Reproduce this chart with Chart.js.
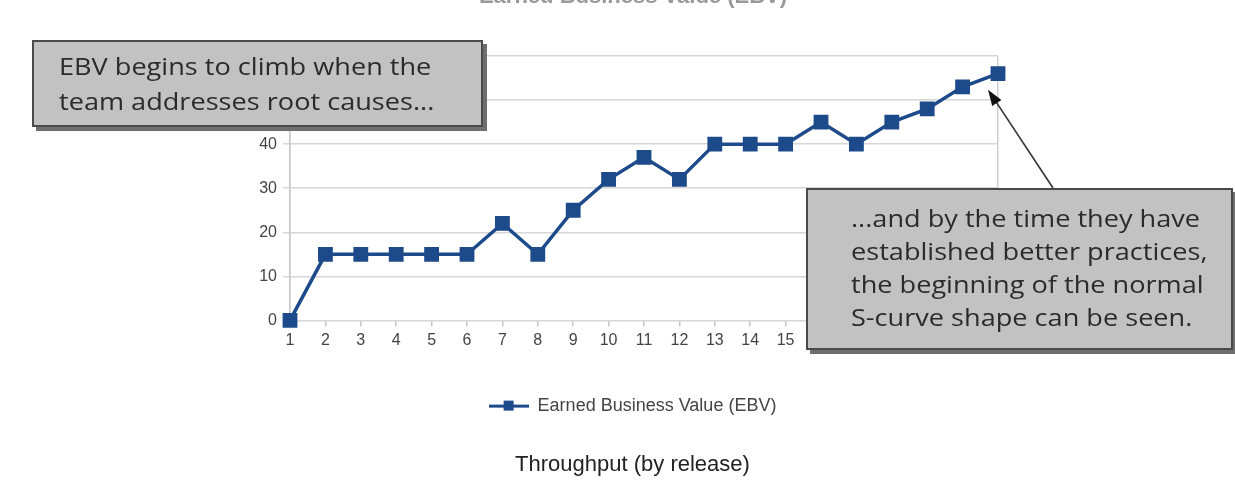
<!DOCTYPE html>
<html>
<head>
<meta charset="utf-8">
<script src="https://cdn.jsdelivr.net/npm/chart.js@4"></script>
<style>
  html, body { margin: 0; padding: 0; background: #fff; }
  #wrap { position: relative; width: 1235px; height: 480px; overflow: hidden; }
  #grafica1 { position: absolute; left: 0; top: 0; }
  .callout {
    position: absolute;
    background: #c2c2c2;
    border: 2px solid #4a4a4a;
    box-shadow: 4px 4px 0 #6e6e6e;
    color: #2b2b2b;
    font-family: "Open Sans", "Noto Sans", sans-serif;
    font-size: 24px;
    box-sizing: border-box;
  }
  .callout span { display: inline-block; transform: scaleX(1.13); transform-origin: left center; white-space: nowrap; }
  #nota1 { left: 32px; top: 40px; width: 451px; height: 87px; padding: 6px 0 0 25px; line-height: 35px; }
  #nota2 { left: 806px; top: 188px; width: 427px; height: 162px; padding: 11px 0 0 43px; line-height: 33px; }
</style>
</head>
<body>
<div id="wrap">
  <canvas id="grafica1" width="1235" height="480"></canvas>
  <div class="callout" id="nota1"><span>EBV begins to climb when the</span><br><span>team addresses root causes...</span></div>
  <div class="callout" id="nota2"><span>...and by the time they have</span><br><span>established better practices,</span><br><span>the beginning of the normal</span><br><span>S-curve shape can be seen.</span></div>
</div>
<script>
// datos
const releases = ['1','2','3','4','5','6','7','8','9','10','11','12','13','14','15','16','17','18','19','20','21'];
const ebv = [0, 15, 15, 15, 15, 15, 22, 15, 25, 32, 37, 32, 40, 40, 40, 45, 40, 45, 48, 53, 56];
const yTicks = [0, 10, 20, 30, 40, 50, 60];

const azul = '#1c4a8a';

// icono de leyenda: linea con cuadro en medio
const icono = document.createElement('canvas');
icono.width = 40; icono.height = 12;
const ic = icono.getContext('2d');
ic.fillStyle = azul;
ic.fillRect(0, 5, 40, 3);
ic.fillRect(15, 1, 10, 10);

// titulo superior (cortado en la imagen) y flecha de la nota
const extras = {
    id: 'extras',
    afterDraw(chart) {
        const c = chart.ctx;
        c.save();
        c.fillStyle = '#999';
        c.font = 'bold 22px "Liberation Sans", Arial, sans-serif';
        c.textAlign = 'center';
        c.textBaseline = 'alphabetic';
        c.fillText('Earned Business Value (EBV)', 633, 3);

        // flecha hacia el ultimo punto
        const meta = chart.getDatasetMeta(0);
        const p = meta.data[meta.data.length - 1];
        const tipX = p.x - 10, tipY = p.y + 16;
        const tailX = 1053, tailY = 188;
        const ang = Math.atan2(tipY - tailY, tipX - tailX);
        c.strokeStyle = '#333';
        c.lineWidth = 1.6;
        c.beginPath();
        c.moveTo(tailX, tailY);
        c.lineTo(tipX - 12 * Math.cos(ang), tipY - 12 * Math.sin(ang));
        c.stroke();
        c.fillStyle = '#111';
        c.beginPath();
        c.moveTo(tipX, tipY);
        c.lineTo(tipX - 16 * Math.cos(ang) + 5.5 * Math.sin(ang), tipY - 16 * Math.sin(ang) - 5.5 * Math.cos(ang));
        c.lineTo(tipX - 16 * Math.cos(ang) - 5.5 * Math.sin(ang), tipY - 16 * Math.sin(ang) + 5.5 * Math.cos(ang));
        c.closePath();
        c.fill();
        c.restore();
    }
};

const ctx = document.getElementById('grafica1').getContext('2d');
window.miGrafica = new Chart(ctx, {
    type: 'line',
    data: {
        labels: releases,
        datasets: [{
            label: 'Earned Business Value (EBV)',
            data: ebv,
            borderColor: azul,
            backgroundColor: azul,
            borderWidth: 3.5,
            pointStyle: 'rect',
            pointRadius: 8,
            pointBackgroundColor: azul,
            pointBorderColor: azul,
            tension: 0,
            clip: false
        }]
    },
    options: {
        responsive: false,
        animation: false,
        layout: { padding: { left: 30, right: 0, top: 56, bottom: 2 } },
        plugins: {
            legend: {
                display: true,
                position: 'bottom',
                labels: {
                    usePointStyle: true,
                    pointStyleWidth: 40,
                    color: '#444',
                    font: { size: 18, family: '"Liberation Sans", Arial, sans-serif' },
                    padding: 41,
                    generateLabels: chart => [{
                        text: chart.data.datasets[0].label,
                        pointStyle: icono,
                        fillStyle: azul,
                        strokeStyle: azul,
                        lineWidth: 0,
                        fontColor: '#444',
                        datasetIndex: 0
                    }]
                }
            },
            title: {
                display: true,
                position: 'bottom',
                text: 'Throughput (by release)',
                color: '#222',
                font: { size: 22, weight: 'normal', family: '"Liberation Sans", Arial, sans-serif' },
                padding: { top: 27, bottom: 0 }
            },
            tooltip: { enabled: false }
        },
        scales: {
            x: {
                offset: false,
                grid: {
                    color: c => (c.index === 0 || c.index === releases.length - 1) ? '#cfcfcf' : 'rgba(0,0,0,0)',
                    tickColor: '#c8c8c8',
                    tickLength: 6,
                    lineWidth: 1.5
                },
                border: { display: false },
                ticks: {
                    color: '#444',
                    padding: 5,
                    maxRotation: 0,
                    font: { size: 16, family: '"Liberation Sans", Arial, sans-serif' }
                }
            },
            y: {
                min: 0,
                max: 60,
                afterFit: s => { s.width = 260; },
                afterBuildTicks: s => { s.ticks = yTicks.map(v => ({ value: v })); },
                grid: { color: '#d6d6d6', tickColor: '#d6d6d6', tickLength: 7, lineWidth: 1.5 },
                border: { display: true, color: '#c8c8c8', width: 1.5 },
                ticks: {
                    color: '#444',
                    padding: 6,
                    font: { size: 16, family: '"Liberation Sans", Arial, sans-serif' }
                }
            },
            // eje vacio a la derecha solo para reservar espacio
            derecha: {
                position: 'right',
                display: true,
                afterFit: s => { s.width = 237; },
                grid: { display: false },
                border: { display: false },
                ticks: { display: false }
            }
        }
    },
    plugins: [extras]
});
</script>
</body>
</html>
